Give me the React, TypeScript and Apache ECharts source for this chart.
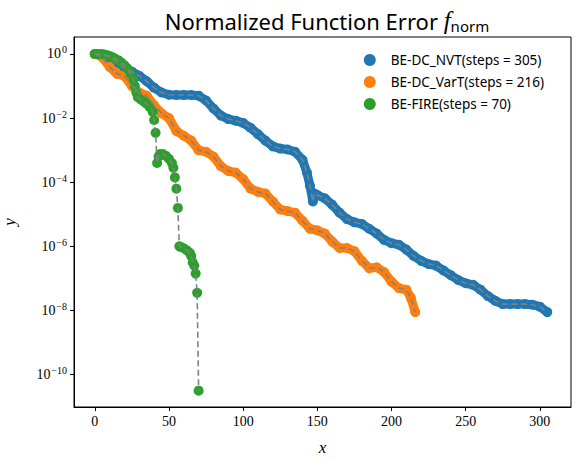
import { useEffect, useRef } from "react";
import * as echarts from "echarts";

// exponents (log10 of the error)
const nvtSteps = [0, 5, 10, 15, 20, 25, 30, 35, 40, 45, 50, 55, 60, 65, 70, 75, 80, 85, 90, 95, 100, 105, 110, 115, 120, 125, 130, 135, 140, 143, 145, 147, 148, 150, 155, 160, 165, 170, 175, 180, 185, 190, 195, 200, 205, 210, 215, 220, 225, 230, 235, 240, 245, 250, 255, 260, 265, 270, 275, 280, 285, 290, 295, 300, 305];
const nvtExp = [0, -0.02, -0.1, -0.25, -0.42, -0.55, -0.68, -0.85, -1.05, -1.2, -1.27, -1.28, -1.28, -1.28, -1.3, -1.45, -1.7, -1.92, -2.03, -2.08, -2.15, -2.3, -2.5, -2.7, -2.88, -2.95, -2.98, -3.05, -3.3, -3.7, -4.1, -4.6, -4.35, -4.4, -4.5, -4.7, -4.95, -5.15, -5.25, -5.3, -5.45, -5.6, -5.8, -5.9, -5.95, -6.1, -6.3, -6.45, -6.55, -6.6, -6.75, -6.9, -7.05, -7.15, -7.2, -7.35, -7.55, -7.7, -7.8, -7.8, -7.8, -7.8, -7.82, -7.88, -8.05];

const varSteps = [0, 5, 10, 15, 20, 25, 30, 35, 40, 45, 50, 55, 60, 65, 70, 75, 80, 85, 90, 95, 100, 105, 110, 115, 120, 125, 130, 135, 140, 145, 150, 155, 160, 165, 170, 175, 180, 185, 190, 195, 200, 205, 210, 213, 216];
const varExp = [0, -0.1, -0.4, -0.62, -0.68, -1.0, -1.2, -1.3, -1.6, -1.85, -2.0, -2.4, -2.55, -2.7, -3.0, -3.05, -3.2, -3.5, -3.65, -3.7, -3.9, -4.2, -4.3, -4.35, -4.6, -4.85, -4.9, -4.95, -5.2, -5.45, -5.5, -5.6, -5.85, -6.05, -6.05, -6.15, -6.45, -6.68, -6.65, -6.8, -7.1, -7.3, -7.35, -7.6, -8.05];

const fireSteps = [0, 2, 4, 6, 8, 10, 12, 14, 16, 18, 20, 22, 24, 26, 27, 28, 29, 31, 33, 35, 37, 39, 40, 41, 42, 43, 44, 46, 48, 50, 52, 53, 54, 55, 56, 57, 58, 60, 62, 64, 65, 66, 67, 68, 69, 70];
const fireExp = [0, 0, 0, -0.01, -0.03, -0.06, -0.1, -0.15, -0.2, -0.27, -0.35, -0.45, -0.6, -0.8, -1.0, -1.2, -1.35, -1.42, -1.48, -1.55, -1.65, -1.8, -2.06, -2.46, -3.4, -3.2, -3.12, -3.12, -3.18, -3.27, -3.4, -3.55, -3.85, -4.2, -4.8, -6.0, -6.02, -6.06, -6.12, -6.2, -6.3, -6.5, -6.6, -6.85, -7.45, -10.5];

const xTicks = [0, 50, 100, 150, 200, 250, 300];
const yTicks = [-10, -8, -6, -4, -2, 0];

const seriesDefs = [
  { name: "BE-DC_NVT(steps = 305)", color: "#1f77b4", x: nvtSteps, y: nvtExp, band: true },
  { name: "BE-DC_VarT(steps = 216)", color: "#ff7f0e", x: varSteps, y: varExp, band: true },
  { name: "BE-FIRE(steps = 70)", color: "#2ca02c", x: fireSteps, y: fireExp, band: false },
];

const serif = "Liberation Serif";
const sans = "Noto Sans";

export default function App() {
  const ref = useRef<HTMLDivElement>(null);

  useEffect(() => {
    if (!ref.current) return;
    document.body.style.margin = "0";
    const chart = echarts.init(ref.current, null, { renderer: "svg" });
    const series: any[] = [];
    seriesDefs.forEach((s) => {
      const pts = s.x.map((v, i) => [v, s.y[i]]);
      if (s.band) {
        series.push({
          type: "line",
          data: pts,
          showSymbol: false,
          lineStyle: { color: s.color, width: 9, cap: "round", join: "round" },
          silent: true,
          z: 1,
        });
      }
      series.push({
        name: s.name,
        type: "scatter",
        data: pts,
        symbolSize: 10,
        itemStyle: { color: s.color, opacity: 1 },
        z: 2,
      });
    });
    seriesDefs.forEach((s) => {
      series.push({
        type: "line",
        data: s.x.map((v, i) => [v, s.y[i]]),
        showSymbol: false,
        lineStyle: { color: "#808080", width: 1.6, type: [6, 3.5] },
        silent: true,
        z: 3,
      });
    });

    chart.setOption({
      animation: false,
      title: {
        text: "Normalized Function Error {f|f}{sub|norm}",
        left: 322,
        top: 3,
        textAlign: "center",
        textStyle: {
          fontFamily: sans,
          fontSize: 22,
          fontWeight: "normal",
          color: "#000",
          rich: {
            f: { fontFamily: serif, fontStyle: "italic", fontSize: 25, color: "#000" },
            sub: { fontFamily: sans, fontSize: 15, verticalAlign: "bottom", padding: [10, 0, 0, 0], color: "#000" },
          },
        },
      },
      legend: {
        data: seriesDefs.map((s) => s.name),
        orient: "vertical",
        right: 30,
        top: 48,
        itemGap: 8,
        itemWidth: 12,
        itemHeight: 12,
        icon: "circle",
        textStyle: { fontFamily: sans, fontSize: 13.5, color: "#000", padding: [0, 0, 0, 10] },
      },
      grid: { left: 74, right: 8, top: 37, bottom: 52, containLabel: false, outerBoundsMode: "none" },
      xAxis: {
        type: "value",
        min: -14,
        max: 321,
        name: "x",
        nameLocation: "middle",
        nameGap: 32,
        nameTextStyle: { fontFamily: serif, fontStyle: "italic", fontSize: 17, color: "#000" },
        splitLine: { show: false },
        axisLine: { onZero: false, lineStyle: { color: "#000", width: 1 } },
        axisTick: { customValues: xTicks, length: 4, lineStyle: { color: "#000" } },
        axisLabel: { customValues: xTicks, fontFamily: serif, fontSize: 14, color: "#000", margin: 7 },
      },
      yAxis: {
        type: "value",
        min: -11.01,
        max: 0.53,
        name: "y",
        nameLocation: "middle",
        nameGap: 56,
        nameTextStyle: { fontFamily: serif, fontStyle: "italic", fontSize: 17, color: "#000" },
        splitLine: { show: false },
        axisLine: { show: true, onZero: false, lineStyle: { color: "#000", width: 1 } },
        axisTick: { show: true, customValues: yTicks, length: 4, lineStyle: { color: "#000" } },
        axisLabel: {
          customValues: yTicks,
          margin: 7,
          formatter: (v: number) => `{b|10}{e|${v === 0 ? "0" : "−" + Math.abs(v)}}`,
          rich: {
            b: { fontFamily: serif, fontSize: 14, color: "#000" },
            e: { fontFamily: serif, fontSize: 10, color: "#000", verticalAlign: "top", padding: [0, 0, 8, 1] },
          },
        },
      },
      graphic: [
        {
          type: "rect",
          shape: { x: 74, y: 37, width: 497, height: 370 },
          style: { fill: "none", stroke: "#000", lineWidth: 1 },
          silent: true,
        },
      ],
      series,
    });
    return () => chart.dispose();
  }, []);

  return <div ref={ref} style={{ width: 579, height: 459 }} />;
}
